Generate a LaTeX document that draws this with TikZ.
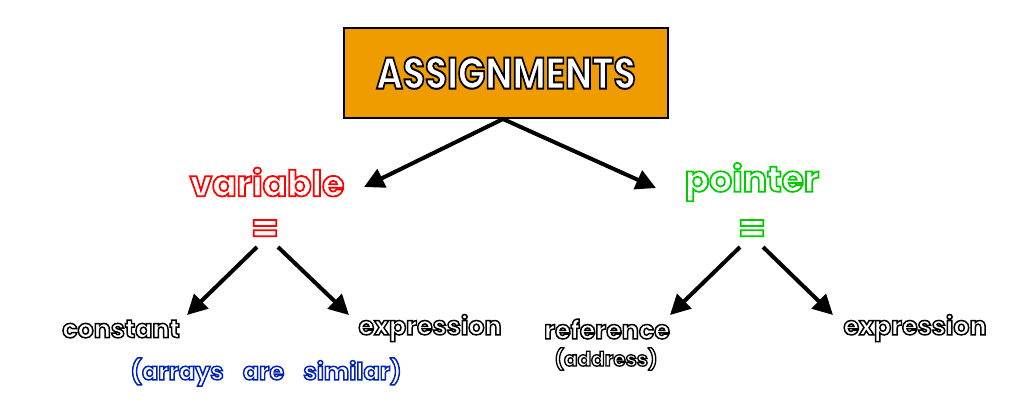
\documentclass[tikz,border=0pt]{standalone}
\usepackage{fontspec}
\usepackage{graphicx}
\newfontfamily\cartoon{Poppins}[BoldFont={* Bold}]
\usetikzlibrary{arrows.meta}
\definecolor{boxorange}{HTML}{EE9C00}
\newcommand\otext[3]{{\color{white}\special{pdf:literal direct 2 Tr #2 w #1 RG}#3\special{pdf:literal direct 0 Tr}}}
\begin{document}
\begin{tikzpicture}[x=0.75pt,y=-0.75pt,
  lbl/.style={inner sep=0pt,font=\cartoon\bfseries},
  arr/.style={line width=3pt,-{Triangle[length=15pt,width=15pt]}}]
\useasboundingbox (0,0) rectangle (1012,405);
\node[draw=black,line width=1pt,fill=boxorange,minimum width=324*0.75pt,minimum height=90*0.75pt,inner sep=0pt] (top) at (506,73) {};
\node[lbl,font=\cartoon\bfseries\fontsize{33}{33}\selectfont] (title) at (506,73) {\scalebox{0.82}[1]{\otext{0 0 0}{1.5}{ASSIGNMENTS}}};
\node[lbl,font=\cartoon\bfseries\fontsize{27}{27}\selectfont] (var) at (267,182) {\otext{1 0 0}{1.3}{variable}};
\node[lbl,font=\cartoon\bfseries\fontsize{27}{27}\selectfont] (ptr) at (752,182) {\otext{0 0.8 0}{1.3}{pointer}};
\node[lbl,font=\cartoon\bfseries\fontsize{30}{30}\selectfont] (eqv) at (265,231) {\otext{1 0 0}{1.3}{=}};
\node[lbl,font=\cartoon\bfseries\fontsize{30}{30}\selectfont] (eqp) at (752,231) {\otext{0 0.8 0}{1.3}{=}};
\node[lbl,font=\cartoon\bfseries\fontsize{19}{19}\selectfont] (const) at (121,329) {\otext{0 0 0}{1.1}{constant}};
\node[lbl,font=\cartoon\bfseries\fontsize{19}{19}\selectfont] (expl) at (430,328) {\otext{0 0 0}{1.1}{expression}};
\node[lbl,font=\cartoon\bfseries\fontsize{18}{18}\selectfont] (arrays) at (266,372) {\otext{0 0.13 0.73}{1.1}{(arrays\hspace{0.8em}are\hspace{0.8em}similar)}};
\node[lbl,font=\cartoon\bfseries\fontsize{19}{19}\selectfont] (ref) at (607,329) {\otext{0 0 0}{1.1}{reference}};
\node[lbl,font=\cartoon\bfseries\fontsize{15}{15}\selectfont] (addr) at (606,359) {\otext{0 0 0}{1.0}{(address)}};
\node[lbl,font=\cartoon\bfseries\fontsize{19}{19}\selectfont] (expr) at (915,328) {\otext{0 0 0}{1.1}{expression}};
\coordinate (topb) at (503,119);
\coordinate (vl) at (257,247);
\coordinate (vr) at (278,247);
\coordinate (pl) at (740,247);
\coordinate (pr) at (763,247);
\draw[arr] (topb) -- (364,187);
\draw[arr] (topb) -- (656,188);
\draw[arr] (vl) -- (187,315);
\draw[arr] (vr) -- (349,315);
\draw[arr] (pl) -- (670,315);
\draw[arr] (pr) -- (833,315);
\end{tikzpicture}
\end{document}
